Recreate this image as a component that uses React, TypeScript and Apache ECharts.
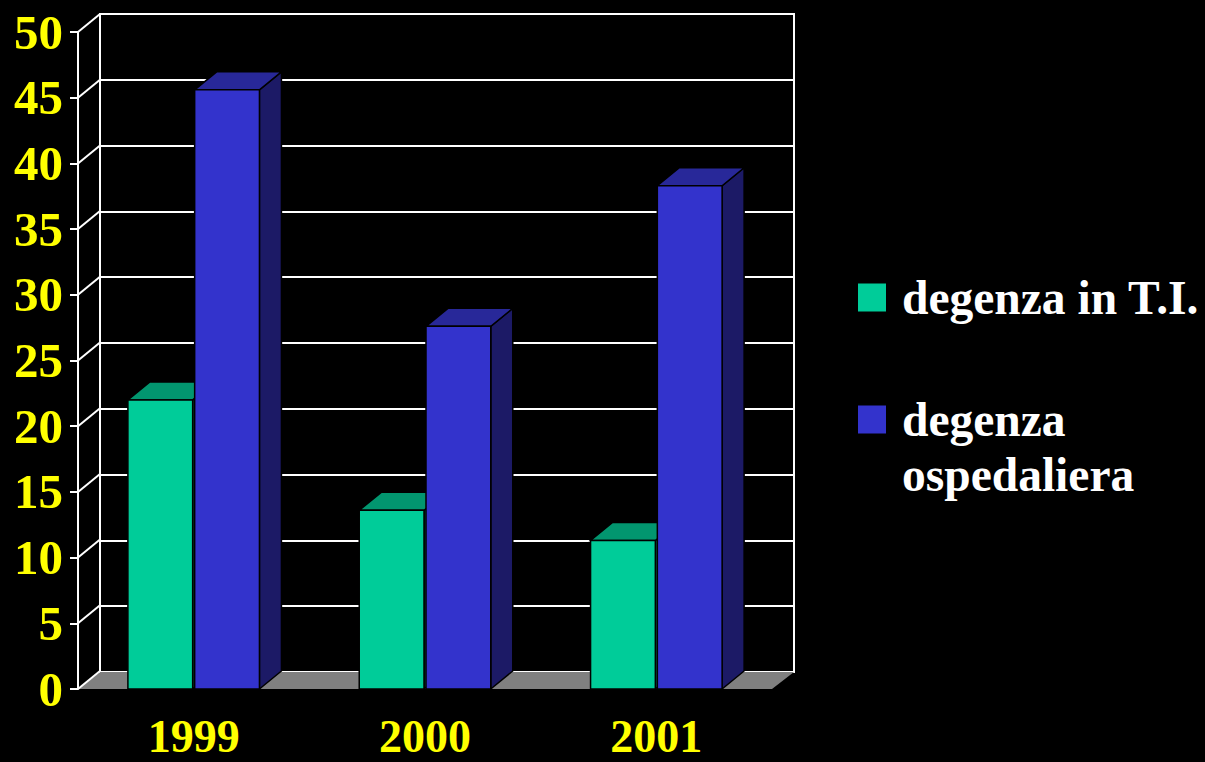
import React, { useEffect, useRef } from 'react';
import * as echarts from 'echarts';

const categories = ['1999', '2000', '2001'];
const seriesNames = ['degenza in T.I.', 'degenza\nospedaliera'];
const tiValues = [22.0, 13.6, 11.3];
const hospitalValues = [45.6, 27.6, 38.3];
const yTicks = [0, 5, 10, 15, 20, 25, 30, 35, 40, 45, 50];

const DX = 22;
const DY = -18;
const FONT = "'Liberation Serif', 'Times New Roman', serif";

const green = { front: '#00CC99', top: '#02966F', side: '#006B50' };
const blue = { front: '#3333CC', top: '#282899', side: '#1C1A66' };

function barRenderer(dir: number, c: { front: string; top: string; side: string }) {
  return (params: any, api: any) => {
    const ci = api.value(0);
    const v = api.value(1);
    const top = api.coord([ci, v]);
    const base = api.coord([ci, 0]);
    const band = api.size([1, 0])[0];
    const w = band * 0.28;
    const gap = 1;
    const x1 = dir < 0 ? top[0] - gap - w : top[0] + gap;
    const x2 = x1 + w;
    const yT = top[1];
    const yB = base[1];
    const st = { stroke: '#000', lineWidth: 1.5, lineJoin: 'miter' };
    return {
      type: 'group',
      children: [
        {
          type: 'polygon',
          shape: { points: [[x2, yB], [x2 + DX, yB + DY], [x2 + DX, yT + DY], [x2, yT]] },
          style: { fill: c.side, ...st },
        },
        {
          type: 'polygon',
          shape: { points: [[x1, yT], [x2, yT], [x2 + DX, yT + DY], [x1 + DX, yT + DY]] },
          style: { fill: c.top, ...st },
        },
        {
          type: 'rect',
          shape: { x: x1, y: yT, width: w, height: yB - yT },
          style: { fill: c.front, ...st },
        },
      ],
    };
  };
}

export default function App() {
  const ref = useRef<HTMLDivElement>(null);
  useEffect(() => {
    if (!ref.current) return;
    const chart = echarts.init(ref.current, null, { renderer: 'svg' });
    const axisLabelStyle = { color: '#FFFF00', fontFamily: FONT, fontWeight: 'bold' };
    chart.setOption({
      animation: false,
      backgroundColor: '#000000',
      grid: [
        { left: 100, top: 14, width: 694, height: 658, show: true, borderColor: '#FFFFFF', borderWidth: 2, backgroundColor: 'transparent' },
        { left: 78, top: 32, width: 694, height: 657 },
      ],
      xAxis: [
        { type: 'category', gridIndex: 0, data: categories, show: false },
        {
          type: 'category',
          gridIndex: 1,
          data: categories,
          axisLine: { show: false },
          axisTick: { show: false },
          axisLabel: { ...axisLabelStyle, fontSize: 46, lineHeight: 36, margin: 29 },
        },
      ],
      yAxis: [
        {
          type: 'value',
          gridIndex: 0,
          min: 0,
          max: 50,
          interval: 5,
          axisLine: { show: false },
          axisTick: { show: false },
          axisLabel: { show: false },
          splitLine: { show: true, lineStyle: { color: '#FFFFFF', width: 2 } },
        },
        {
          type: 'value',
          gridIndex: 1,
          min: 0,
          max: 50,
          interval: 5,
          axisLine: { show: true, lineStyle: { color: '#FFFFFF', width: 2 } },
          axisTick: { show: true, length: 8, lineStyle: { color: '#FFFFFF', width: 2 } },
          axisLabel: { ...axisLabelStyle, fontSize: 49, margin: 15 },
          splitLine: { show: false },
        },
      ],
      legend: {
        orient: 'vertical',
        left: 858,
        top: 270,
        padding: 0,
        itemWidth: 28,
        itemHeight: 28,
        itemGap: 12,
        selectedMode: false,
        formatter: (name: string) => (name.indexOf('\n') >= 0 ? ' \n' + name : name),
        textStyle: {
          color: '#FFFFFF',
          fontFamily: FONT,
          fontWeight: 'bold',
          fontSize: 47.5,
          lineHeight: 55,
          padding: [0, 0, 0, 11],
        },
        data: [
          { name: seriesNames[0], icon: 'rect' },
          { name: seriesNames[1], icon: 'rect' },
        ],
      },
      series: [
        {
          type: 'custom',
          name: 'floor',
          xAxisIndex: 1,
          yAxisIndex: 1,
          silent: true,
          data: [[0, 0]],
          renderItem: (params: any, api: any) => {
            const cs = params.coordSys;
            const yB = cs.y + cs.height;
            return {
              type: 'polygon',
              shape: {
                points: [
                  [cs.x, yB],
                  [cs.x + cs.width, yB],
                  [cs.x + cs.width + DX, yB + DY + 1],
                  [cs.x + DX, yB + DY + 1],
                ],
              },
              style: { fill: '#808080' },
            };
          },
        },
        {
          type: 'custom',
          name: 'wall',
          xAxisIndex: 1,
          yAxisIndex: 1,
          silent: true,
          data: yTicks.map((t) => [0, t]),
          renderItem: (params: any, api: any) => {
            const cs = params.coordSys;
            const p = api.coord([0, api.value(1)]);
            return {
              type: 'line',
              shape: { x1: cs.x, y1: p[1], x2: cs.x + DX, y2: p[1] + DY },
              style: { stroke: '#FFFFFF', lineWidth: 2 },
            };
          },
        },
        {
          type: 'custom',
          name: seriesNames[0],
          xAxisIndex: 1,
          yAxisIndex: 1,
          itemStyle: { color: green.front },
          data: tiValues.map((v, i) => [i, v]),
          encode: { x: 0, y: 1 },
          renderItem: barRenderer(-1, green),
        },
        {
          type: 'custom',
          name: seriesNames[1],
          xAxisIndex: 1,
          yAxisIndex: 1,
          itemStyle: { color: blue.front },
          data: hospitalValues.map((v, i) => [i, v]),
          encode: { x: 0, y: 1 },
          renderItem: barRenderer(1, blue),
        },
      ],
    });
    return () => chart.dispose();
  }, []);
  return (
    <div style={{ position: 'fixed', left: 0, top: 0, width: 1205, height: 762, background: '#000' }}>
      <div ref={ref} style={{ width: 1205, height: 762 }} />
    </div>
  );
}
